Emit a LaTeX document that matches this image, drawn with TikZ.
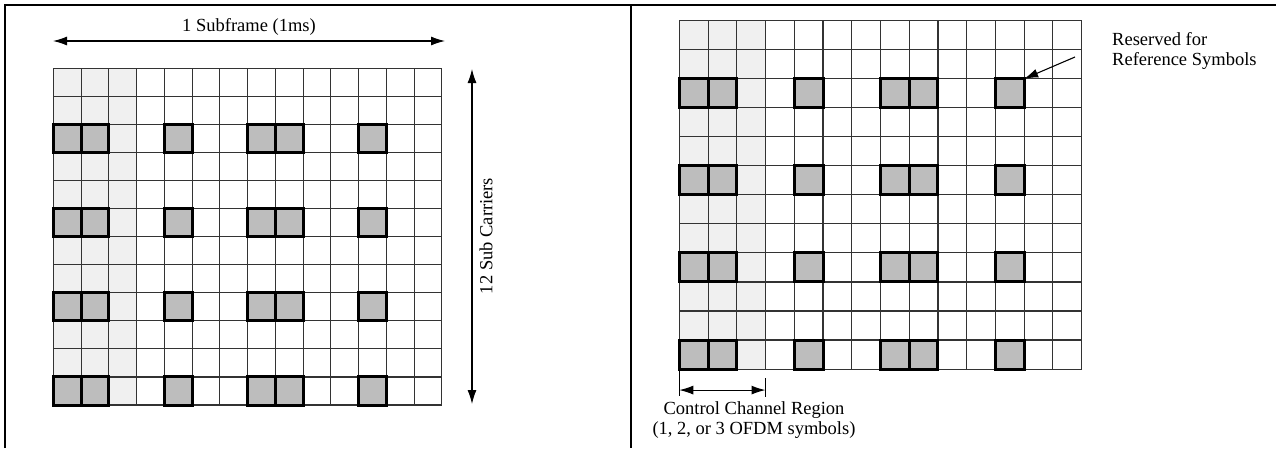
\documentclass[tikz,border=0pt]{standalone}
\usepackage{fontspec}
\setmainfont{Liberation Serif}
\usepackage{tikz}
\usetikzlibrary{arrows.meta}

\definecolor{ctrlshade}{RGB}{240,240,240}
\definecolor{refgray}{RGB}{189,189,189}

\begin{document}
\begin{tikzpicture}[x=1pt,y=-1pt,>={Latex[length=14pt,width=9pt]},
  frame/.style={line width=2.8pt},
  cell/.style={line width=1.1pt,draw=black!80},
  refsym/.style={line width=3pt,fill=refgray},
  dim/.style={<->,line width=1.1pt},
  lbl/.style={font=\fontsize{18.5}{20}\selectfont,inner sep=0pt}]
 %\tikzstyle{every node}=[lbl]

 \useasboundingbox (0,0) rectangle (1276,448);

 % table lines
 \draw[frame] (5,448) -- (5,5) -- (1276,5);
 \draw[frame] (631,5) -- (631,448);

 % left panel: one resource block
 \begin{scope}[shift={(53.3,68.3)},x=27.75pt,y=-28.06pt]
  \fill[ctrlshade] (0,0) rectangle (3,12);
  \foreach \c in {0,...,14} \draw[cell] (\c,0) -- (\c,12);
  \foreach \r in {0,...,12} \draw[cell] (0,\r) -- (14,\r);
  \foreach \r in {2,5,8,11}
   \foreach \c in {0,1,4,7,8,11}
    \draw[refsym] (\c,\r) rectangle ++(1,1);
 \end{scope}

 \coordinate (sf0) at (53,41);
 \coordinate (sf1) at (445,41);
 \draw[dim] (sf0) -- (sf1);
 \node[lbl] (sf) at (249,27) {1 Subframe (1ms)};

 \coordinate (sc0) at (472,69);
 \coordinate (sc1) at (472,404);
 \draw[dim] (sc0) -- (sc1);
 \node[lbl,rotate=90] (sc) at (486,236) {12 Sub Carriers};

 % right panel: same block, with labels
 \begin{scope}[shift={(679.3,20.7)},x=28.74pt,y=-29.03pt]
  \fill[ctrlshade] (0,0) rectangle (3,12);
  \foreach \c in {0,...,14} \draw[cell] (\c,0) -- (\c,12);
  \foreach \r in {0,...,12} \draw[cell] (0,\r) -- (14,\r);
  \foreach \r in {2,5,8,11}
   \foreach \c in {0,1,4,7,8,11}
    \draw[refsym] (\c,\r) rectangle ++(1,1);
  \coordinate (rsym) at (12,2);
  \coordinate (cc0) at (0,12);
  \coordinate (cc1) at (3,12);
 \end{scope}

 \node[lbl,align=left,anchor=west] (rs) at (1112,51) {Reserved for\\Reference Symbols};
 \coordinate (rs0) at (1075,57);
 \draw[->,line width=1.1pt] (rs0) -- (rsym);

 \draw[line width=1.1pt] (cc0) -- ++(0,27);
 \draw[line width=1.1pt] (cc1) ++(0,9) -- ++(0,19);
 \draw[dim] (cc0) ++(0,21) -- ++(86.2,0);
 \node[lbl,align=center] (cc) at (754,420) {Control Channel Region\\(1, 2, or 3 OFDM symbols)};
\end{tikzpicture}
\end{document}
